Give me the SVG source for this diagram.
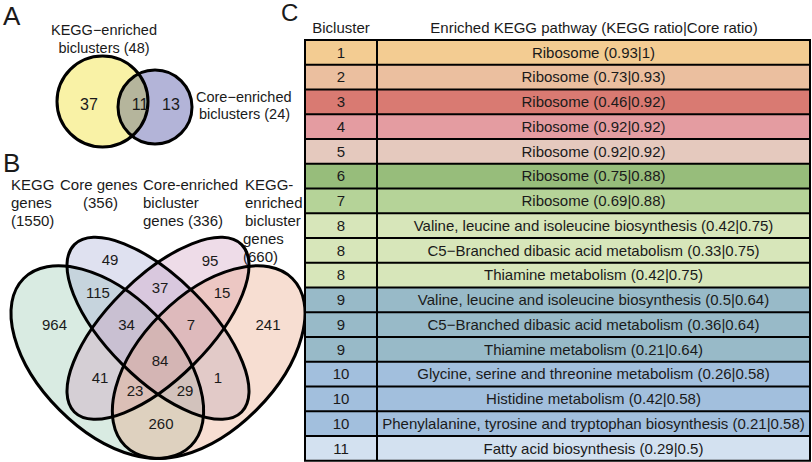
<svg xmlns="http://www.w3.org/2000/svg" width="812" height="462" viewBox="0 0 812 462">
<style>
text{font-family:"Liberation Sans",Arial,sans-serif;fill:#1a1a1a}
.lbl{font-size:26px}
.a{font-size:14.5px}
.an{font-size:16px;text-anchor:middle}
.b{font-size:15px}
.bn{font-size:15px;text-anchor:middle}
.t{font-size:15px;text-anchor:middle}
.ol{fill:none;stroke:#000;stroke-width:3}
.fo{fill-opacity:0.35}
.row{stroke:none}
.grid{stroke:#000;stroke-width:2;fill:none}
</style>
<defs>
<clipPath id="clipY"><circle cx="102.5" cy="101.5" r="45.5"/></clipPath>
</defs>
<rect width="812" height="462" fill="#fff"/>

<g id="panelA">
<text class="lbl" x="3" y="25">A</text>
<g id="setKEGGbic">
<circle cx="102.5" cy="101.5" r="45.5" fill="#f9f2a6"/>
<text class="a" x="104" y="35" text-anchor="middle">KEGG−enriched</text>
<text class="a" x="104" y="53" text-anchor="middle">biclusters (48)</text>
</g>
<g id="setCorebic">
<circle cx="155" cy="107" r="37" fill="#b3b4d8"/>
<text class="a" x="196" y="102">Core−enriched</text>
<text class="a" x="199" y="119">biclusters (24)</text>
</g>
<g id="overlapA">
<circle cx="155" cy="107" r="37" fill="#b5b59c" clip-path="url(#clipY)"/>
</g>
<circle class="ol" cx="102.5" cy="101.5" r="45.5"/>
<circle class="ol" cx="155" cy="107" r="37"/>
<text class="an" x="89" y="110">37</text>
<text class="an" x="140" y="110">11</text>
<text class="an" x="171" y="110">13</text>
</g>

<g id="panelB">
<text class="lbl" x="3" y="172">B</text>
<g id="setKEGGgenes">
<ellipse class="fo" cx="107.3" cy="362.1" rx="118.3" ry="67.6" transform="rotate(45 107.3 362.1)" fill="#92c6ac"/>
<text class="b" x="11" y="190">KEGG</text>
<text class="b" x="11" y="208">genes</text>
<text class="b" x="11" y="226">(1550)</text>
</g>
<g id="setCoregenes">
<ellipse class="fo" cx="158" cy="328.3" rx="118.3" ry="50.7" transform="rotate(45 158 328.3)" fill="#a4a9d4"/>
<text class="b" x="60" y="190">Core genes</text>
<text class="b" x="83" y="208">(356)</text>
</g>
<g id="setCoreBicGenes">
<ellipse class="fo" cx="158" cy="328.3" rx="118.3" ry="50.7" transform="rotate(-45 158 328.3)" fill="#ce9bbd"/>
<text class="b" x="143" y="190">Core-enriched</text>
<text class="b" x="143" y="208">bicluster</text>
<text class="b" x="143" y="226">genes (336)</text>
</g>
<g id="setKEGGBicGenes">
<ellipse class="fo" cx="208.7" cy="362.1" rx="118.3" ry="67.6" transform="rotate(-45 208.7 362.1)" fill="#e8a17e"/>
<text class="b" x="245" y="190">KEGG-</text>
<text class="b" x="245" y="208">enriched</text>
<text class="b" x="245" y="226">bicluster</text>
<text class="b" x="243" y="244">genes</text>
<text class="b" x="243" y="262">(660)</text>
</g>
<g id="outlinesB">
<ellipse class="ol" cx="107.3" cy="362.1" rx="118.3" ry="67.6" transform="rotate(45 107.3 362.1)"/>
<ellipse class="ol" cx="158" cy="328.3" rx="118.3" ry="50.7" transform="rotate(45 158 328.3)"/>
<ellipse class="ol" cx="158" cy="328.3" rx="118.3" ry="50.7" transform="rotate(-45 158 328.3)"/>
<ellipse class="ol" cx="208.7" cy="362.1" rx="118.3" ry="67.6" transform="rotate(-45 208.7 362.1)"/>
</g>
<g id="countsB">
<text class="bn" x="110" y="265">49</text>
<text class="bn" x="210" y="266">95</text>
<text class="bn" x="98" y="298">115</text>
<text class="bn" x="160" y="293">37</text>
<text class="bn" x="222" y="298">15</text>
<text class="bn" x="54.5" y="330">964</text>
<text class="bn" x="126.5" y="330">34</text>
<text class="bn" x="191" y="330">7</text>
<text class="bn" x="268" y="330">241</text>
<text class="bn" x="160" y="366">84</text>
<text class="bn" x="100" y="383">41</text>
<text class="bn" x="218" y="383">1</text>
<text class="bn" x="135" y="396">23</text>
<text class="bn" x="185" y="396">29</text>
<text class="bn" x="161" y="429">260</text>
</g>
</g>

<g id="panelC">
<text class="lbl" x="281" y="21" style="font-size:24px">C</text>
<text class="t" x="341" y="33">Bicluster</text>
<text class="t" x="594" y="33">Enriched KEGG pathway (KEGG ratio|Core ratio)</text>
<g id="rows">
<rect class="row" x="305" y="40" width="505" height="24.75" fill="#f3cc92"/>
<rect class="row" x="305" y="64.75" width="505" height="24.75" fill="#ebbf9f"/>
<rect class="row" x="305" y="89.5" width="505" height="24.75" fill="#d97a72"/>
<rect class="row" x="305" y="114.25" width="505" height="24.75" fill="#e49ca1"/>
<rect class="row" x="305" y="139" width="505" height="24.75" fill="#e5c9be"/>
<rect class="row" x="305" y="163.75" width="505" height="24.75" fill="#97bd7b"/>
<rect class="row" x="305" y="188.5" width="505" height="24.75" fill="#b5d398"/>
<rect class="row" x="305" y="213.25" width="505" height="74.25" fill="#d7e6ba"/>
<rect class="row" x="305" y="287.5" width="505" height="74.25" fill="#98bac8"/>
<rect class="row" x="305" y="361.75" width="505" height="74.25" fill="#a2bfdd"/>
<rect class="row" x="305" y="436" width="505" height="24.75" fill="#d3e1f0"/>
</g>
<g id="grid" class="grid">
<rect x="305" y="40" width="505" height="420.75"/>
<line x1="377" y1="40" x2="377" y2="460.75"/>
<path d="M305 64.75H810M305 89.5H810M305 114.25H810M305 139H810M305 163.75H810M305 188.5H810M305 213.25H810M305 238H810M305 262.75H810M305 287.5H810M305 312.25H810M305 337H810M305 361.75H810M305 386.5H810M305 411.25H810M305 436H810"/>
</g>
<g id="cells">
<text class="t" x="341" y="57.6">1</text><text class="t" x="593.5" y="57.6">Ribosome (0.93|1)</text>
<text class="t" x="341" y="82.35">2</text><text class="t" x="593.5" y="82.35">Ribosome (0.73|0.93)</text>
<text class="t" x="341" y="107.1">3</text><text class="t" x="593.5" y="107.1">Ribosome (0.46|0.92)</text>
<text class="t" x="341" y="131.85">4</text><text class="t" x="593.5" y="131.85">Ribosome (0.92|0.92)</text>
<text class="t" x="341" y="156.6">5</text><text class="t" x="593.5" y="156.6">Ribosome (0.92|0.92)</text>
<text class="t" x="341" y="181.35">6</text><text class="t" x="593.5" y="181.35">Ribosome (0.75|0.88)</text>
<text class="t" x="341" y="206.1">7</text><text class="t" x="593.5" y="206.1">Ribosome (0.69|0.88)</text>
<text class="t" x="341" y="230.85">8</text><text class="t" x="593.5" y="230.85">Valine, leucine and isoleucine biosynthesis (0.42|0.75)</text>
<text class="t" x="341" y="255.6">8</text><text class="t" x="593.5" y="255.6">C5−Branched dibasic acid metabolism (0.33|0.75)</text>
<text class="t" x="341" y="280.35">8</text><text class="t" x="593.5" y="280.35">Thiamine metabolism (0.42|0.75)</text>
<text class="t" x="341" y="305.1">9</text><text class="t" x="593.5" y="305.1">Valine, leucine and isoleucine biosynthesis (0.5|0.64)</text>
<text class="t" x="341" y="329.85">9</text><text class="t" x="593.5" y="329.85">C5−Branched dibasic acid metabolism (0.36|0.64)</text>
<text class="t" x="341" y="354.6">9</text><text class="t" x="593.5" y="354.6">Thiamine metabolism (0.21|0.64)</text>
<text class="t" x="341" y="379.35">10</text><text class="t" x="593.5" y="379.35">Glycine, serine and threonine metabolism (0.26|0.58)</text>
<text class="t" x="341" y="404.1">10</text><text class="t" x="593.5" y="404.1">Histidine metabolism (0.42|0.58)</text>
<text class="t" x="341" y="428.85">10</text><text class="t" x="593.5" y="428.85">Phenylalanine, tyrosine and tryptophan biosynthesis (0.21|0.58)</text>
<text class="t" x="341" y="453.6">11</text><text class="t" x="593.5" y="453.6">Fatty acid biosynthesis (0.29|0.5)</text>
</g>
</g>
</svg>
